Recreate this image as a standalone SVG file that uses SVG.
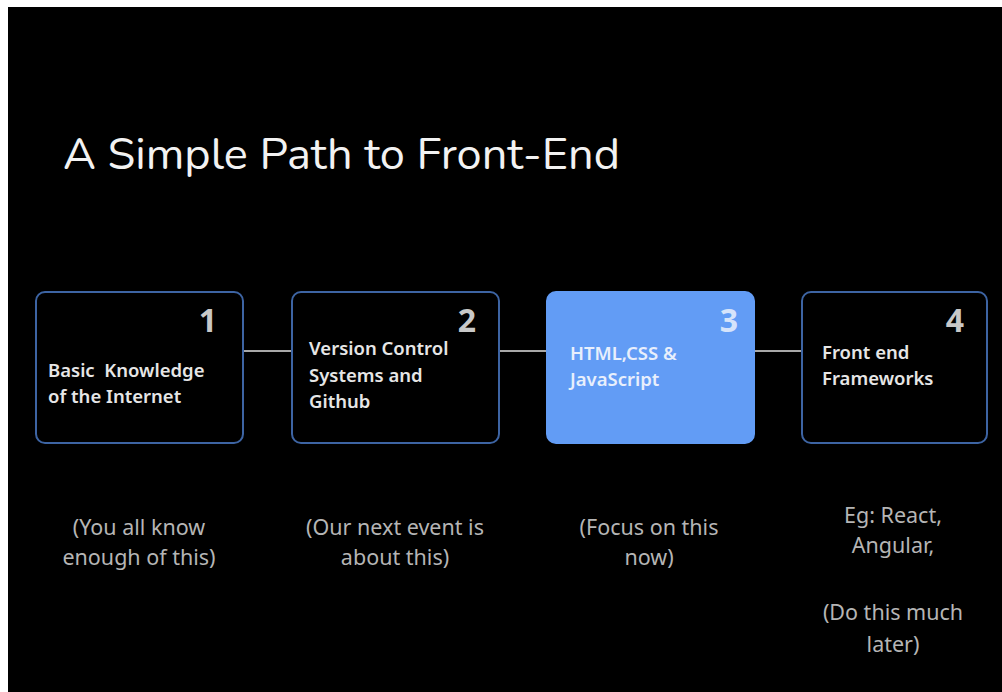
<svg xmlns="http://www.w3.org/2000/svg" width="1002" height="692" viewBox="0 0 1002 692">
<style>
.box{fill:#000;stroke:#3d64a3;stroke-width:2}
.hl{fill:#629cf5;stroke:#629cf5;stroke-width:2}
.num{font-family:"Noto Sans",sans-serif;font-weight:bold;font-size:32px;fill:#c8c8c8;text-anchor:end}
.lbl{font-family:"Noto Sans",sans-serif;font-weight:600;font-size:18.5px;fill:#e6e6e6;white-space:pre}
.note{font-family:"Noto Sans",sans-serif;font-size:21.5px;fill:#b5b5b5;text-anchor:middle}
.conn{stroke:#a8a8a8;stroke-width:2}
</style>
<rect x="0" y="0" width="1002" height="692" fill="#fff"/>
<rect x="8" y="7" width="994" height="685" fill="#000"/>
<text x="63" y="169" font-family="Nunito, 'Noto Sans', sans-serif" font-size="44" fill="#f2f2f2" textLength="557" lengthAdjust="spacingAndGlyphs">A Simple Path to Front-End</text>
<g id="connectors">
<line class="conn" x1="243" y1="351" x2="292" y2="351"/>
<line class="conn" x1="499" y1="351" x2="547" y2="351"/>
<line class="conn" x1="754" y1="351" x2="802" y2="351"/>
</g>
<g id="node1">
<rect class="box" x="36" y="292" width="207" height="151" rx="9"/>
<text class="num" x="217" y="332">1</text>
<text class="lbl" x="48" y="377" xml:space="preserve">Basic  Knowledge</text>
<text class="lbl" x="48" y="403">of the Internet</text>
</g>
<g id="node2">
<rect class="box" x="292" y="292" width="207" height="151" rx="9"/>
<text class="num" x="476" y="332">2</text>
<text class="lbl" x="309" y="355">Version Control</text>
<text class="lbl" x="309" y="382">Systems and</text>
<text class="lbl" x="309" y="408">Github</text>
</g>
<g id="node3">
<rect class="hl" x="547" y="292" width="207" height="151" rx="9"/>
<text class="num" x="738" y="332" style="fill:#d6e4fb">3</text>
<text class="lbl" x="570" y="360" style="fill:#e8effc">HTML,CSS &amp;</text>
<text class="lbl" x="570" y="386" style="fill:#e8effc">JavaScript</text>
</g>
<g id="node4">
<rect class="box" x="802" y="292" width="185" height="151" rx="9"/>
<text class="num" x="964" y="332">4</text>
<text class="lbl" x="822" y="359">Front end</text>
<text class="lbl" x="822" y="385">Frameworks</text>
</g>
<g id="notes">
<text class="note" x="139" y="535">(You all know</text>
<text class="note" x="139" y="565">enough of this)</text>
<text class="note" x="395" y="535">(Our next event is</text>
<text class="note" x="395" y="565">about this)</text>
<text class="note" x="649" y="535">(Focus on this</text>
<text class="note" x="649" y="565">now)</text>
<text class="note" x="893" y="523">Eg: React,</text>
<text class="note" x="893" y="553">Angular,</text>
<text class="note" x="893" y="620">(Do this much</text>
<text class="note" x="893" y="652">later)</text>
</g>
</svg>
